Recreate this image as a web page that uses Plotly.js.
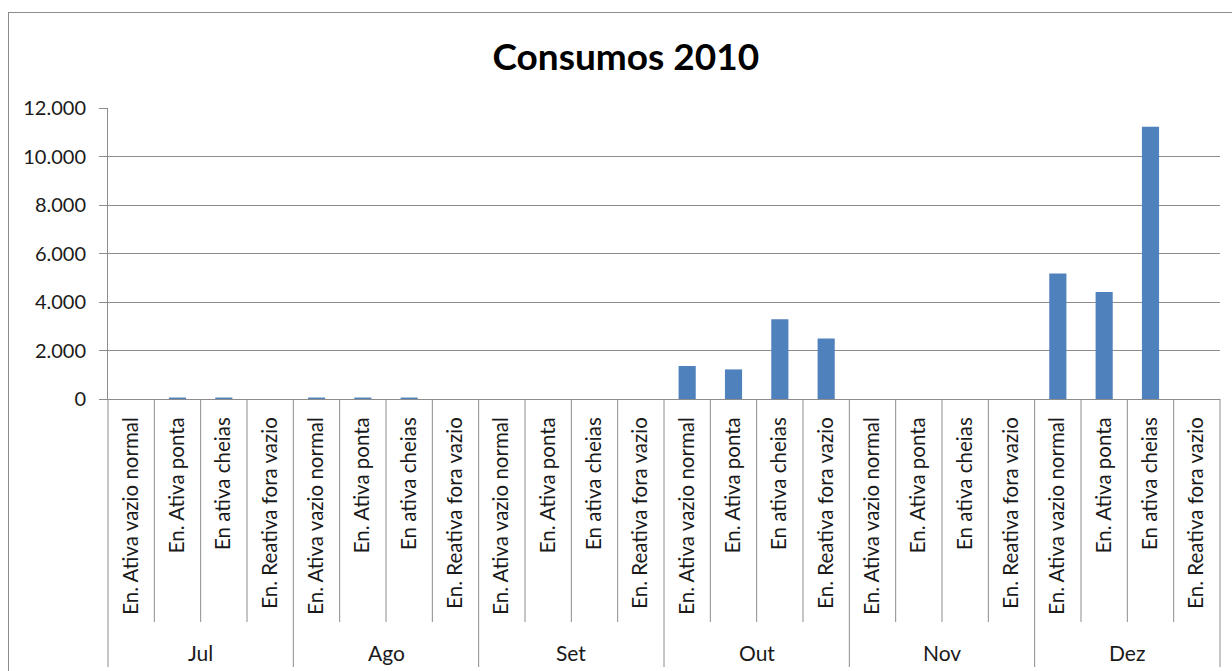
<!DOCTYPE html>
<html>
<head>
<meta charset="utf-8">
<script src="https://cdn.plot.ly/plotly-3.0.1.min.js"></script>
<style>
  html, body { margin: 0; padding: 0; background: #ffffff; }
  #chart { width: 1232px; height: 671px; position: absolute; left: 0; top: 0; }
  #frame { position: absolute; left: 8px; top: 12px; width: 1230px; height: 680px;
           border: 1px solid #8c8c8c; box-sizing: border-box; pointer-events: none; }
</style>
</head>
<body>
<div id="chart"></div>
<div id="frame"></div>
<script>
const months = ["Jul", "Ago", "Set", "Out", "Nov", "Dez"];
const subcategories = ["En. Ativa vazio normal", "En. Ativa ponta", "En ativa cheias", "En. Reativa fora vazio"];
const valuesJul = [0, 60, 60, 0];
const valuesAgo = [60, 60, 60, 0];
const valuesSet = [0, 0, 0, 0];
const valuesOut = [1360, 1220, 3290, 2500];
const valuesNov = [0, 0, 0, 0];
const valuesDez = [5180, 4410, 11230, 0];
const yTickVals = [0, 2000, 4000, 6000, 8000, 10000, 12000];
const chartTitle = "Consumos 2010";

const seriesByMonth = [valuesJul, valuesAgo, valuesSet, valuesOut, valuesNov, valuesDez];
const xKeys = [], yVals = [], tickText = [];
months.forEach((m, i) => {
  subcategories.forEach((s, j) => {
    xKeys.push(m + " | " + s);
    tickText.push(s);
    yVals.push(seriesByMonth[i][j]);
  });
});

const font = "Lato, 'Open Sans', sans-serif";
const nCat = xKeys.length;
const nSub = subcategories.length;
const plotH = 291;
const lineColor = "#8c8c8c";

const shapes = [];
for (let k = 0; k <= nCat; k++) {
  const outer = (k % nSub === 0);
  shapes.push({
    type: "line", xref: "paper", yref: "paper",
    x0: k / nCat, x1: k / nCat, y0: 0, y1: outer ? -268 / plotH : -223 / plotH,
    line: { color: lineColor, width: 1 }
  });
}
const annotations = months.map((m, i) => ({
  text: m, xref: "x", yref: "paper", x: i * nSub + (nSub - 1) / 2, y: -253 / plotH,
  showarrow: false, xanchor: "center", yanchor: "middle",
  font: { family: font, size: 21, color: "#1a1a1a" }
}));

Plotly.newPlot("chart", [{
  type: "bar", x: xKeys, y: yVals,
  marker: { color: "#4f81bd", line: { width: 0 } },
  hoverinfo: "x+y"
}], {
  width: 1232, height: 671,
  margin: { l: 108, r: 12, t: 108, b: 272 },
  paper_bgcolor: "rgba(0,0,0,0)", plot_bgcolor: "#ffffff",
  separators: ",.",
  showlegend: false,
  bargap: 0.63,
  title: { text: "<b>" + chartTitle + "</b>", x: 0.508, xanchor: "center", y: 0.915, yanchor: "middle",
           font: { family: font, size: 37, color: "#000000" } },
  xaxis: {
    type: "category", range: [-0.5, nCat - 0.5],
    tickvals: xKeys, ticktext: tickText, tickangle: -90,
    ticks: "", showgrid: false, showline: true, linecolor: lineColor, linewidth: 1,
    tickfont: { family: font, size: 20.5, color: "#1a1a1a" },
    ticklabelstandoff: 9, zeroline: false, fixedrange: true
  },
  yaxis: {
    range: [0, 12000], tickvals: yTickVals, tickformat: ",d",
    ticks: "outside", ticklen: 8, tickcolor: lineColor,
    showline: true, linecolor: lineColor, linewidth: 1,
    showgrid: true, gridcolor: lineColor, gridwidth: 1, zeroline: false,
    tickfont: { family: font, size: 20, color: "#1a1a1a" },
    ticklabelstandoff: 9, fixedrange: true
  },
  shapes: shapes,
  annotations: annotations
}, { displayModeBar: false, staticPlot: true });
</script>
</body>
</html>
